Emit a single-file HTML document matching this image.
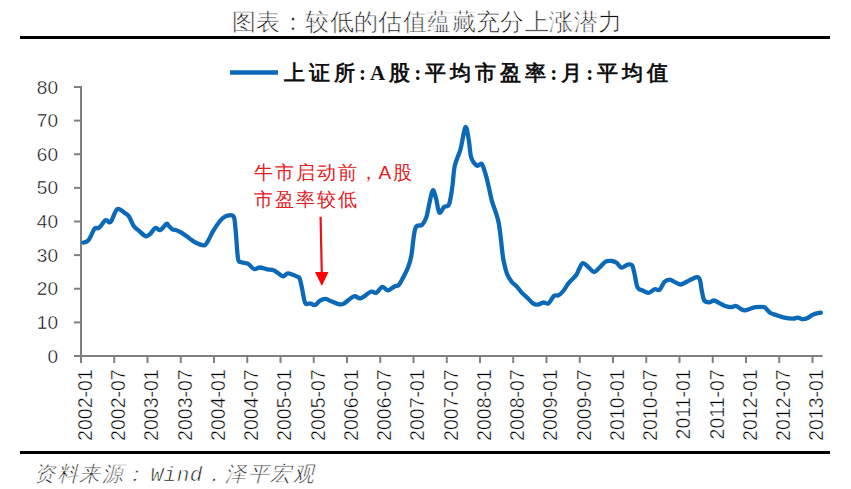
<!DOCTYPE html>
<html><head><meta charset="utf-8">
<style>
html,body{margin:0;padding:0;background:#fff;}
body{width:851px;height:489px;position:relative;overflow:hidden;font-family:"Liberation Sans",sans-serif;}
.t{position:absolute;white-space:nowrap;}
#title{left:232px;top:6px;font-size:24px;letter-spacing:0.4px;color:#111;-webkit-text-stroke:0.6px #fff;font-family:"Liberation Serif",serif;font-weight:300;}
#legend{left:284px;top:59px;font-size:21px;font-weight:bold;color:#111;font-family:"Liberation Serif",serif;letter-spacing:4.0px;}
#anno{left:254px;top:159px;font-size:19px;letter-spacing:2px;line-height:27px;color:#e3201f;}
#src{left:34px;top:460px;font-size:21px;font-style:italic;color:#111;-webkit-text-stroke:0.6px #fff;letter-spacing:1.5px;font-family:"Liberation Mono",monospace;}
svg{position:absolute;left:0;top:0;}
</style></head><body>
<svg width="851" height="489" viewBox="0 0 851 489">
<rect x="20" y="36" width="810" height="3" fill="#000"/>
<rect x="20" y="451" width="810" height="3" fill="#000"/>
<line x1="230" y1="72.6" x2="278" y2="72.6" stroke="#0c69b8" stroke-width="4.5" stroke-linecap="butt"/>
<line x1="81.0" y1="86.5" x2="81.0" y2="363" stroke="#7f7f7f" stroke-width="2"/><line x1="74" y1="356.0" x2="822.6" y2="356.0" stroke="#7f7f7f" stroke-width="2"/><line x1="74" y1="322.38" x2="82.0" y2="322.38" stroke="#7f7f7f" stroke-width="2"/><line x1="74" y1="288.75" x2="82.0" y2="288.75" stroke="#7f7f7f" stroke-width="2"/><line x1="74" y1="255.12" x2="82.0" y2="255.12" stroke="#7f7f7f" stroke-width="2"/><line x1="74" y1="221.50" x2="82.0" y2="221.50" stroke="#7f7f7f" stroke-width="2"/><line x1="74" y1="187.88" x2="82.0" y2="187.88" stroke="#7f7f7f" stroke-width="2"/><line x1="74" y1="154.25" x2="82.0" y2="154.25" stroke="#7f7f7f" stroke-width="2"/><line x1="74" y1="120.62" x2="82.0" y2="120.62" stroke="#7f7f7f" stroke-width="2"/><line x1="74" y1="87.00" x2="82.0" y2="87.00" stroke="#7f7f7f" stroke-width="2"/><line x1="114.25" y1="356.0" x2="114.25" y2="363" stroke="#7f7f7f" stroke-width="2"/><line x1="147.50" y1="356.0" x2="147.50" y2="363" stroke="#7f7f7f" stroke-width="2"/><line x1="180.75" y1="356.0" x2="180.75" y2="363" stroke="#7f7f7f" stroke-width="2"/><line x1="214.00" y1="356.0" x2="214.00" y2="363" stroke="#7f7f7f" stroke-width="2"/><line x1="247.25" y1="356.0" x2="247.25" y2="363" stroke="#7f7f7f" stroke-width="2"/><line x1="280.50" y1="356.0" x2="280.50" y2="363" stroke="#7f7f7f" stroke-width="2"/><line x1="313.75" y1="356.0" x2="313.75" y2="363" stroke="#7f7f7f" stroke-width="2"/><line x1="347.00" y1="356.0" x2="347.00" y2="363" stroke="#7f7f7f" stroke-width="2"/><line x1="380.25" y1="356.0" x2="380.25" y2="363" stroke="#7f7f7f" stroke-width="2"/><line x1="413.50" y1="356.0" x2="413.50" y2="363" stroke="#7f7f7f" stroke-width="2"/><line x1="446.75" y1="356.0" x2="446.75" y2="363" stroke="#7f7f7f" stroke-width="2"/><line x1="480.00" y1="356.0" x2="480.00" y2="363" stroke="#7f7f7f" stroke-width="2"/><line x1="513.25" y1="356.0" x2="513.25" y2="363" stroke="#7f7f7f" stroke-width="2"/><line x1="546.50" y1="356.0" x2="546.50" y2="363" stroke="#7f7f7f" stroke-width="2"/><line x1="579.75" y1="356.0" x2="579.75" y2="363" stroke="#7f7f7f" stroke-width="2"/><line x1="613.00" y1="356.0" x2="613.00" y2="363" stroke="#7f7f7f" stroke-width="2"/><line x1="646.25" y1="356.0" x2="646.25" y2="363" stroke="#7f7f7f" stroke-width="2"/><line x1="679.50" y1="356.0" x2="679.50" y2="363" stroke="#7f7f7f" stroke-width="2"/><line x1="712.75" y1="356.0" x2="712.75" y2="363" stroke="#7f7f7f" stroke-width="2"/><line x1="746.00" y1="356.0" x2="746.00" y2="363" stroke="#7f7f7f" stroke-width="2"/><line x1="779.25" y1="356.0" x2="779.25" y2="363" stroke="#7f7f7f" stroke-width="2"/><line x1="812.50" y1="356.0" x2="812.50" y2="363" stroke="#7f7f7f" stroke-width="2"/>
<g font-family="Liberation Sans" font-size="19" fill="#000" stroke="#fff" stroke-width="0.45">
<text x="58" y="362.50" text-anchor="end">0</text><text x="58" y="328.88" text-anchor="end">10</text><text x="58" y="295.25" text-anchor="end">20</text><text x="58" y="261.62" text-anchor="end">30</text><text x="58" y="228.00" text-anchor="end">40</text><text x="58" y="194.38" text-anchor="end">50</text><text x="58" y="160.75" text-anchor="end">60</text><text x="58" y="127.12" text-anchor="end">70</text><text x="58" y="93.50" text-anchor="end">80</text>
<text font-size="19.5" transform="translate(91.80,369.3) rotate(-90)" text-anchor="end">2002-01</text><text font-size="19.5" transform="translate(125.05,369.3) rotate(-90)" text-anchor="end">2002-07</text><text font-size="19.5" transform="translate(158.30,369.3) rotate(-90)" text-anchor="end">2003-01</text><text font-size="19.5" transform="translate(191.55,369.3) rotate(-90)" text-anchor="end">2003-07</text><text font-size="19.5" transform="translate(224.80,369.3) rotate(-90)" text-anchor="end">2004-01</text><text font-size="19.5" transform="translate(258.05,369.3) rotate(-90)" text-anchor="end">2004-07</text><text font-size="19.5" transform="translate(291.30,369.3) rotate(-90)" text-anchor="end">2005-01</text><text font-size="19.5" transform="translate(324.55,369.3) rotate(-90)" text-anchor="end">2005-07</text><text font-size="19.5" transform="translate(357.80,369.3) rotate(-90)" text-anchor="end">2006-01</text><text font-size="19.5" transform="translate(391.05,369.3) rotate(-90)" text-anchor="end">2006-07</text><text font-size="19.5" transform="translate(424.30,369.3) rotate(-90)" text-anchor="end">2007-01</text><text font-size="19.5" transform="translate(457.55,369.3) rotate(-90)" text-anchor="end">2007-07</text><text font-size="19.5" transform="translate(490.80,369.3) rotate(-90)" text-anchor="end">2008-01</text><text font-size="19.5" transform="translate(524.05,369.3) rotate(-90)" text-anchor="end">2008-07</text><text font-size="19.5" transform="translate(557.30,369.3) rotate(-90)" text-anchor="end">2009-01</text><text font-size="19.5" transform="translate(590.55,369.3) rotate(-90)" text-anchor="end">2009-07</text><text font-size="19.5" transform="translate(623.80,369.3) rotate(-90)" text-anchor="end">2010-01</text><text font-size="19.5" transform="translate(657.05,369.3) rotate(-90)" text-anchor="end">2010-07</text><text font-size="19.5" transform="translate(690.30,369.3) rotate(-90)" text-anchor="end">2011-01</text><text font-size="19.5" transform="translate(723.55,369.3) rotate(-90)" text-anchor="end">2011-07</text><text font-size="19.5" transform="translate(756.80,369.3) rotate(-90)" text-anchor="end">2012-01</text><text font-size="19.5" transform="translate(790.05,369.3) rotate(-90)" text-anchor="end">2012-07</text><text font-size="19.5" transform="translate(823.30,369.3) rotate(-90)" text-anchor="end">2013-01</text>
</g>
<path fill="none" stroke="#0c69b8" stroke-width="4.3" stroke-linejoin="round" stroke-linecap="round" d="M83.40,242.60 C84.25,242.20 86.63,242.52 88.50,240.20 C90.37,237.88 92.87,230.75 94.60,228.70 C96.33,226.65 97.05,229.32 98.90,227.90 C100.75,226.48 103.75,221.18 105.70,220.20 C107.65,219.22 108.67,223.85 110.60,222.00 C112.53,220.15 114.85,210.53 117.30,209.10 C119.75,207.67 123.35,212.17 125.30,213.40 C127.25,214.63 127.57,214.35 129.00,216.50 C130.43,218.65 132.27,223.95 133.90,226.30 C135.53,228.65 136.85,228.97 138.80,230.60 C140.75,232.23 143.77,235.48 145.60,236.10 C147.43,236.72 148.17,235.63 149.80,234.30 C151.43,232.97 153.65,228.82 155.40,228.10 C157.15,227.38 158.47,230.72 160.30,230.00 C162.13,229.28 165.07,224.58 166.40,223.80 C167.73,223.02 167.30,224.37 168.30,225.30 C169.30,226.23 171.03,228.58 172.40,229.40 C173.77,230.22 175.00,229.67 176.50,230.20 C178.00,230.73 179.23,231.23 181.40,232.60 C183.57,233.97 186.92,236.62 189.50,238.40 C192.08,240.18 194.45,242.15 196.90,243.30 C199.35,244.45 202.47,245.48 204.20,245.30 C205.93,245.12 205.77,244.63 207.30,242.20 C208.83,239.77 211.35,234.15 213.40,230.70 C215.45,227.25 217.68,223.85 219.60,221.50 C221.52,219.15 222.98,217.63 224.90,216.60 C226.82,215.57 229.57,215.13 231.10,215.30 C232.63,215.47 233.33,215.03 234.10,217.60 C234.87,220.17 235.05,223.92 235.70,230.70 C236.35,237.48 237.12,253.07 238.00,258.30 C238.88,263.53 239.35,261.20 241.00,262.10 C242.65,263.00 245.72,262.55 247.90,263.70 C250.08,264.85 252.10,268.37 254.10,269.00 C256.10,269.63 257.70,267.43 259.90,267.50 C262.10,267.57 265.05,268.95 267.30,269.40 C269.55,269.85 271.57,269.55 273.40,270.20 C275.23,270.85 276.67,272.27 278.30,273.30 C279.93,274.33 281.57,276.40 283.20,276.40 C284.83,276.40 285.85,273.30 288.10,273.30 C290.35,273.30 294.75,275.48 296.70,276.40 C298.65,277.32 298.88,276.65 299.80,278.80 C300.72,280.95 301.28,285.25 302.20,289.30 C303.12,293.35 303.97,300.73 305.30,303.10 C306.63,305.47 308.57,303.18 310.20,303.50 C311.83,303.82 313.47,305.47 315.10,305.00 C316.73,304.53 318.25,301.72 320.00,300.70 C321.75,299.68 323.75,298.80 325.60,298.90 C327.45,299.00 328.75,300.38 331.10,301.30 C333.45,302.22 337.45,304.10 339.70,304.40 C341.95,304.70 342.77,304.13 344.60,303.10 C346.43,302.07 348.97,299.35 350.70,298.20 C352.43,297.05 353.33,296.20 355.00,296.20 C356.67,296.20 358.07,298.93 360.70,298.20 C363.33,297.47 368.17,292.70 370.80,291.80 C373.43,290.90 374.60,293.63 376.50,292.80 C378.40,291.97 380.30,287.20 382.20,286.80 C384.10,286.40 385.87,290.45 387.90,290.40 C389.93,290.35 392.62,287.38 394.40,286.50 C396.18,285.62 397.30,286.30 398.60,285.10 C399.90,283.90 400.63,282.23 402.20,279.30 C403.77,276.37 406.48,271.38 408.00,267.50 C409.52,263.62 410.33,261.20 411.30,256.00 C412.27,250.80 412.98,241.22 413.80,236.30 C414.62,231.38 414.83,228.42 416.20,226.50 C417.57,224.58 420.32,226.32 422.00,224.80 C423.68,223.28 425.05,221.08 426.30,217.40 C427.55,213.72 428.42,207.20 429.50,202.70 C430.58,198.20 431.70,191.08 432.80,190.40 C433.90,189.72 435.02,194.92 436.10,198.60 C437.18,202.28 437.95,211.13 439.30,212.50 C440.65,213.87 442.57,208.17 444.20,206.80 C445.83,205.43 447.73,207.72 449.10,204.30 C450.47,200.88 451.45,192.75 452.40,186.30 C453.35,179.85 453.45,171.78 454.80,165.60 C456.15,159.42 458.73,155.60 460.50,149.20 C462.27,142.80 464.03,128.83 465.40,127.20 C466.77,125.57 467.73,134.37 468.70,139.40 C469.67,144.43 469.83,153.03 471.20,157.40 C472.57,161.77 475.13,164.50 476.90,165.60 C478.67,166.70 480.30,162.37 481.80,164.00 C483.30,165.63 484.68,171.32 485.90,175.40 C487.12,179.48 488.08,184.18 489.10,188.50 C490.12,192.82 490.42,195.63 492.00,201.30 C493.58,206.97 496.83,213.65 498.60,222.50 C500.37,231.35 501.67,247.57 502.60,254.40 C503.53,261.23 503.42,260.15 504.20,263.50 C504.98,266.85 505.97,271.33 507.30,274.50 C508.63,277.67 510.67,280.55 512.20,282.50 C513.73,284.45 514.87,284.47 516.50,286.20 C518.13,287.93 520.07,290.85 522.00,292.90 C523.93,294.95 526.27,296.75 528.10,298.50 C529.93,300.25 531.37,302.38 533.00,303.40 C534.63,304.42 536.15,304.75 537.90,304.60 C539.65,304.45 541.75,302.70 543.50,302.50 C545.25,302.30 546.67,304.48 548.40,303.40 C550.13,302.32 552.17,297.37 553.90,296.00 C555.63,294.63 557.17,296.12 558.80,295.20 C560.43,294.28 562.07,292.52 563.70,290.50 C565.33,288.48 566.53,285.67 568.60,283.10 C570.67,280.53 574.33,277.47 576.10,275.10 C577.87,272.73 578.07,270.88 579.20,268.90 C580.33,266.92 581.37,263.50 582.90,263.20 C584.43,262.90 586.57,265.63 588.40,267.10 C590.23,268.57 592.07,271.90 593.90,272.00 C595.73,272.10 597.45,269.43 599.40,267.70 C601.35,265.97 603.55,262.72 605.60,261.60 C607.65,260.48 609.87,260.80 611.70,261.00 C613.53,261.20 614.97,261.68 616.60,262.80 C618.23,263.92 619.65,267.40 621.50,267.70 C623.35,268.00 625.95,265.02 627.70,264.60 C629.45,264.18 630.88,263.77 632.00,265.20 C633.12,266.63 633.48,269.52 634.40,273.20 C635.32,276.88 636.17,284.43 637.50,287.30 C638.83,290.17 640.57,289.47 642.40,290.40 C644.23,291.33 646.45,293.10 648.50,292.90 C650.55,292.70 652.85,289.72 654.70,289.20 C656.55,288.68 657.97,291.03 659.60,289.80 C661.23,288.57 662.78,283.50 664.50,281.80 C666.22,280.10 668.18,279.55 669.90,279.60 C671.62,279.65 672.95,281.28 674.80,282.10 C676.65,282.92 678.95,284.60 681.00,284.50 C683.05,284.40 685.07,282.52 687.10,281.50 C689.13,280.48 691.47,279.12 693.20,278.40 C694.93,277.68 696.37,276.90 697.50,277.20 C698.63,277.50 699.28,277.95 700.00,280.20 C700.72,282.45 701.08,287.32 701.80,290.70 C702.52,294.08 703.07,298.57 704.30,300.50 C705.53,302.43 707.57,302.30 709.20,302.30 C710.83,302.30 712.47,300.40 714.10,300.50 C715.73,300.60 717.17,301.98 719.00,302.90 C720.83,303.82 723.05,305.28 725.10,306.00 C727.15,306.72 729.45,307.20 731.30,307.20 C733.15,307.20 734.57,305.68 736.20,306.00 C737.83,306.32 739.67,308.38 741.10,309.10 C742.53,309.82 743.17,310.40 744.80,310.30 C746.43,310.20 749.07,309.02 750.90,308.50 C752.73,307.98 753.63,307.42 755.80,307.20 C757.97,306.98 762.15,306.93 763.90,307.20 C765.65,307.47 765.20,307.83 766.30,308.80 C767.40,309.77 768.93,311.98 770.50,313.00 C772.07,314.02 773.58,314.18 775.70,314.90 C777.82,315.62 780.38,316.67 783.20,317.30 C786.02,317.93 790.17,318.63 792.60,318.70 C795.03,318.77 796.08,317.63 797.80,317.70 C799.52,317.77 801.18,319.10 802.90,319.10 C804.62,319.10 806.37,318.48 808.10,317.70 C809.83,316.92 811.18,315.25 813.30,314.40 C815.42,313.55 819.55,312.90 820.80,312.60"/>
<line x1="320.6" y1="216.8" x2="321.8" y2="274" stroke="#e8141a" stroke-width="2.2"/>
<polygon points="315,272 328.5,272 321.8,286" fill="#ff0000"/>
</svg>
<div class="t" id="title">图表：较低的估值蕴藏充分上涨潜力</div>
<div class="t" id="legend">上证所:A股:平均市盈率:月:平均值</div>
<div class="t" id="anno">牛市启动前<span style="letter-spacing:0.5px">，</span>A股<br>市盈率较低</div>
<div class="t" id="src">资料来源：<span style="margin-left:4px;letter-spacing:0.5px">Wind</span>，泽平宏观</div>
</body></html>
